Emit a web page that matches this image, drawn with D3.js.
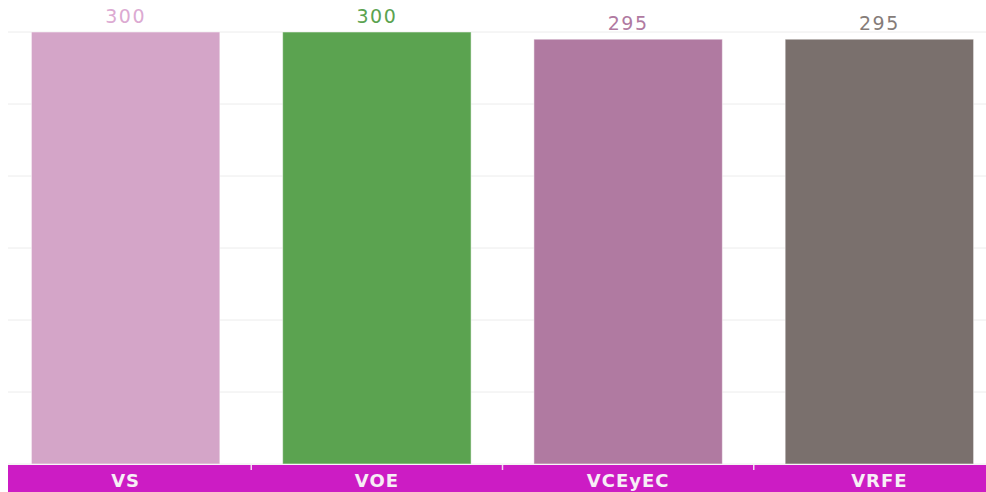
<!DOCTYPE html>
<html>
<head>
<meta charset="utf-8">
<script src="https://cdn.jsdelivr.net/npm/d3@7"></script>
<style>
  body { margin: 0; background: #fff; }
  svg { display: block; }
</style>
</head>
<body>
<div id="chart"></div>
<script>
// data
const categories = ['VS', 'VOE', 'VCEyEC', 'VRFE']
const values = [300, 300, 295, 295]
const colors = ['#d4a5c8', '#5ba350', '#b07aa1', '#7a706d']
const labelColors = ['#dcaad2', '#5ba350', '#b07aa1', '#857c79']
const gridTicks = [0, 50, 100, 150, 200, 250, 300]

const W = 986
const H = 492
const margin = { top: 32, left: 0, right: -19, bottom: 28 }
const width = W - margin.left - margin.right
const height = H - margin.top - margin.bottom

const svg = d3.select('#chart')
  .append('svg')
  .attr('width', W)
  .attr('height', H)
  .style('font-family', '"DejaVu Sans", Verdana, sans-serif')

// magenta category band (drawn first so labels sit on top)
svg.append('rect')
  .attr('x', 8)
  .attr('y', margin.top + height + 1)
  .attr('width', W - 8)
  .attr('height', H - (margin.top + height + 1))
  .attr('fill', '#cc1cc4')

const g = svg.append('g')
  .attr('transform', 'translate(' + margin.left + ',' + margin.top + ')')

const xPositionScale = d3.scaleBand()
  .domain(categories)
  .range([0, width])
  .paddingInner(0.25)
  .paddingOuter(0.125)

const yPositionScale = d3.scaleLinear()
  .domain([0, 300])
  .range([height, 0])

// gridlines
g.append('g')
  .attr('class', 'grid')
  .selectAll('line')
  .data(gridTicks)
  .enter()
  .append('line')
  .attr('x1', 8)
  .attr('x2', W)
  .attr('y1', d => yPositionScale(d))
  .attr('y2', d => yPositionScale(d))
  .attr('stroke', '#ececec')
  .attr('stroke-width', 1)

const data = categories.map((c, i) => ({ cat: c, value: values[i], color: colors[i], label: labelColors[i] }))

// bars
g.selectAll('.bar')
  .data(data)
  .enter()
  .append('rect')
  .attr('class', 'bar')
  .attr('x', d => xPositionScale(d.cat))
  .attr('width', xPositionScale.bandwidth())
  .attr('y', d => yPositionScale(d.value))
  .attr('height', d => height - yPositionScale(d.value))
  .attr('fill', d => d.color)
  .attr('stroke', '#ffffff')
  .attr('stroke-opacity', 0.5)
  .attr('stroke-width', 1)

// value labels
g.selectAll('.value')
  .data(data)
  .enter()
  .append('text')
  .attr('class', 'value')
  .text(d => d.value)
  .attr('x', d => xPositionScale(d.cat) + xPositionScale.bandwidth() / 2)
  .attr('y', d => yPositionScale(d.value))
  .attr('dy', -9)
  .attr('text-anchor', 'middle')
  .attr('font-size', 19)
  .attr('letter-spacing', 1.5)
  .attr('fill', d => d.label)

// separators between categories
const bounds = categories.slice(1).map(c => xPositionScale(c) - xPositionScale.step() * xPositionScale.paddingInner() / 2)
g.selectAll('.sep')
  .data(bounds)
  .enter()
  .append('line')
  .attr('x1', d => d)
  .attr('x2', d => d)
  .attr('y1', height + 1)
  .attr('y2', height + 6)
  .attr('stroke', '#f4d4f0')
  .attr('stroke-width', 1.5)

// category labels
g.selectAll('.cat')
  .data(data)
  .enter()
  .append('text')
  .attr('class', 'cat')
  .text(d => d.cat)
  .attr('x', d => xPositionScale(d.cat) + xPositionScale.bandwidth() / 2)
  .attr('y', height + 23)
  .attr('text-anchor', 'middle')
  .attr('font-size', 18)
  .attr('letter-spacing', 1)
  .attr('font-weight', 'bold')
  .attr('fill', '#f7eef6')
</script>
</body>
</html>
